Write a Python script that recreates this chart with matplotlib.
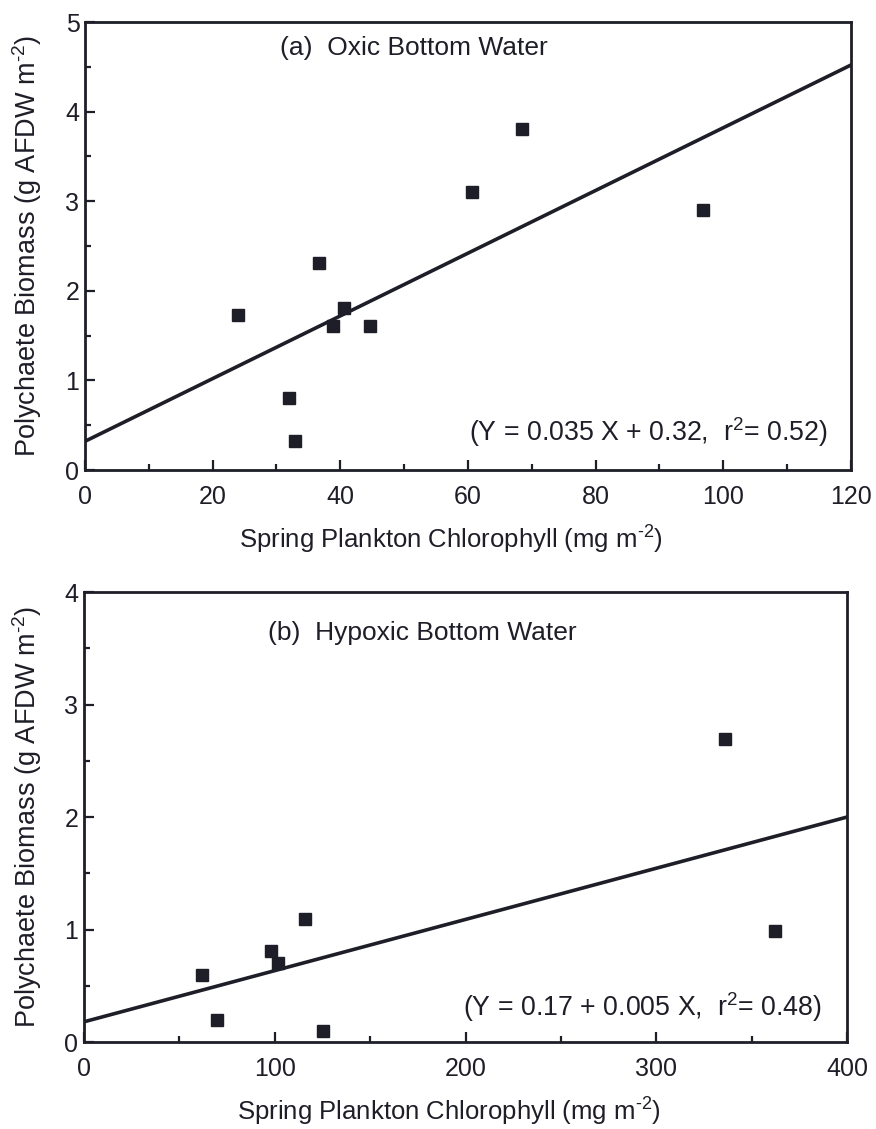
import numpy as np
import matplotlib
matplotlib.use('Agg')
import matplotlib.pyplot as plt
from matplotlib.ticker import MultipleLocator

# (a) oxic bottom water
chl_oxic = [24.0, 36.7, 32.0, 32.9, 38.9, 40.6, 44.7, 60.7, 68.5, 96.8]
bio_oxic = [1.73, 2.31, 0.80, 0.32, 1.61, 1.81, 1.61, 3.10, 3.81, 2.90]
fit_oxic = (0.035, 0.32)   # slope, intercept

# (b) hypoxic bottom water
chl_hyp = [61.9, 69.7, 98.0, 101.8, 115.9, 125.3, 336.0, 362.3]
bio_hyp = [0.60, 0.20, 0.81, 0.70, 1.09, 0.10, 2.69, 0.99]
fit_hyp = (0.00455, 0.18)   # as drawn in the figure

ink = '#1e1e28'
plt.rcParams['font.family'] = ['Liberation Sans', 'DejaVu Sans']
plt.rcParams['mathtext.fontset'] = 'custom'
plt.rcParams['mathtext.rm'] = 'Liberation Sans'
plt.rcParams['mathtext.it'] = 'Liberation Sans'
plt.rcParams['mathtext.default'] = 'regular'

fig = plt.figure(figsize=(8.76, 11.29), dpi=100)
ax1 = fig.add_axes([0.0970, 0.5837, 0.8744, 0.3968])
ax2 = fig.add_axes([0.0959, 0.0770, 0.8710, 0.3986])

panels = [
    (ax1, chl_oxic, bio_oxic, fit_oxic, 120, 5, 20, 10,
     '(a)  Oxic Bottom Water', (0.254, 0.942),
     r'(Y = 0.035 X + 0.32,  r$^2$= 0.52)', (0.970, 0.085)),
    (ax2, chl_hyp, bio_hyp, fit_hyp, 400, 4, 100, 50,
     '(b)  Hypoxic Bottom Water', (0.241, 0.909),
     r'(Y = 0.17 + 0.005 X,  r$^2$= 0.48)', (0.967, 0.078)),
]

for ax, xs, ys, fit, xmax, ymax, xmaj, xmin, title, tpos, eq, epos in panels:
    xl = np.array([0, xmax])
    ax.plot(xl, fit[0] * xl + fit[1], color=ink, lw=2.6, zorder=2)
    ax.plot(xs, ys, 's', color=ink, ms=8, zorder=3)
    ax.set_xlim(0, xmax)
    ax.set_ylim(0, ymax)
    ax.xaxis.set_major_locator(MultipleLocator(xmaj))
    ax.xaxis.set_minor_locator(MultipleLocator(xmin))
    ax.yaxis.set_major_locator(MultipleLocator(1))
    ax.yaxis.set_minor_locator(MultipleLocator(0.5))
    ax.tick_params(which='both', direction='in', colors=ink, width=1.6)
    ax.tick_params(which='major', length=7, labelsize=18)
    ax.tick_params(axis='x', which='major', pad=11)
    ax.tick_params(axis='y', which='major', pad=4)
    ax.tick_params(which='minor', length=4)
    for s in ax.spines.values():
        s.set_linewidth(2.0)
        s.set_color(ink)
    ax.set_xlabel(r'Spring Plankton Chlorophyll (mg m$^{\text{-}2}$)',
                  fontsize=18.5, color=ink)
    ax.set_ylabel(r'Polychaete Biomass (g AFDW m$^{\text{-}2}$)',
                  fontsize=19.5, color=ink)
    ax.xaxis.set_label_coords(0.478, -0.120)
    ax.yaxis.set_label_coords(-0.053, 0.5)
    ax.text(tpos[0], tpos[1], title, transform=ax.transAxes, fontsize=19,
            color=ink, va='center', ha='left')
    ax.text(epos[0], epos[1], eq, transform=ax.transAxes, fontsize=19.3,
            color=ink, va='center', ha='right')

fig.savefig('out.png', dpi=100)
